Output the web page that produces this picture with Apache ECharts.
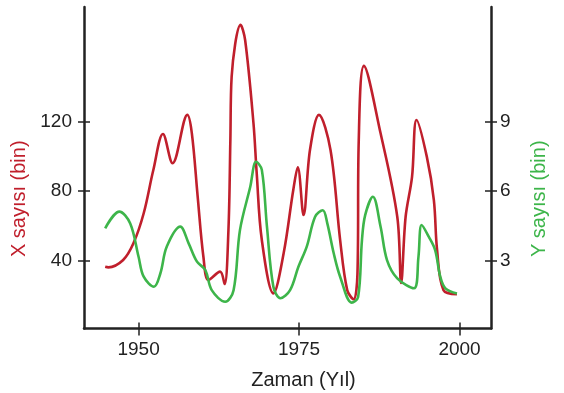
<!DOCTYPE html>
<html>
<head>
<meta charset="utf-8">
<script src="https://cdn.jsdelivr.net/npm/echarts@6/dist/echarts.min.js"></script>
<style>
  html, body { margin: 0; padding: 0; background: #fff; }
  #chart { width: 564px; height: 393px; }
</style>
</head>
<body>
<div id="chart"></div>
<script>
// X sayısı (bin) - sol eksen
var yearsX = [1944.8, 1945.3, 1947.6, 1949.2, 1950.8, 1952.3, 1953.8, 1955.3, 1957.6, 1958.3, 1959.2, 1960.1,
  1960.9, 1962.7, 1963.4, 1964.0, 1964.3, 1964.5, 1965.9, 1966.6, 1967.9, 1968.4, 1969.2, 1971.0, 1972.6, 1974.1,
  1974.8, 1975.7, 1976.7, 1978.1, 1979.9, 1981.4, 1982.5, 1983.5, 1984.1, 1984.3, 1985.1, 1987.7, 1990.3, 1990.9,
  1991.6, 1992.6, 1993.3, 1994.9, 1996.0, 1996.5, 1997.5, 1999.6]
var valuesX = [36.5, 36.2, 40.4, 50.0, 67.3, 92.2, 112.9, 96.1, 123.9, 113.3, 77.2, 42.3,
  28.9, 33.7, 26.6, 57.7, 109.5, 145.9, 175.7, 167.0, 119.1, 90.5, 51.9, 21.2, 44.3, 80.7,
  93.8, 66.3, 103.7, 123.9, 103.7, 51.9, 23.1, 17.8, 32.7, 109.5, 152.1, 113.3, 65.3, 27.2,
  65.3, 88.3, 121.0, 99.9, 74.9, 46.2, 23.1, 20.7]

// Y sayısı (bin) - sağ eksen
var yearsY = [1944.8, 1947.0, 1948.7, 1950.0, 1950.8, 1952.4, 1953.4, 1954.4, 1956.5, 1957.8, 1959.1, 1960.4,
  1961.4, 1963.5, 1964.8, 1965.8, 1967.4, 1968.3, 1969.2, 1970.0, 1971.0, 1972.1, 1973.6, 1974.9, 1976.2, 1977.5,
  1978.7, 1979.4, 1980.4, 1981.4, 1983.2, 1984.2, 1984.8, 1985.3, 1986.5, 1987.7, 1988.7, 1990.3, 1992.9, 1993.6,
  1994.1, 1995.2, 1996.2, 1997.0, 1997.8, 1999.6]
var valuesY = [4.40, 5.12, 4.61, 3.17, 2.31, 1.88, 2.46, 3.61, 4.47, 3.75, 2.96, 2.60,
  1.73, 1.23, 1.73, 4.33, 6.19, 7.27, 6.92, 4.47, 1.88, 1.38, 1.73, 2.74, 3.61, 4.90,
  5.18, 4.61, 3.32, 2.31, 1.19, 1.43, 3.89, 4.97, 5.76, 4.47, 3.03, 2.24, 1.81, 3.17,
  4.54, 4.04, 3.46, 2.31, 1.81, 1.59]

var xTicks = [1950, 1975, 2000]
var leftTicks = [40, 80, 120]
var rightTicks = [3, 6, 9]

var red = '#c01f2c'
var green = '#3db54a'
var ink = '#222'
var font = 'Liberation Sans, Arial, sans-serif'

function pairs (xs, ys) {
  return xs.map(function (x, i) { return [x, ys[i]] })
}

function plain (v) {
  return String(v)
}

var xMin = 1941.5, xMax = 2004.9
var lMin = 1.0, lMax = 186.0
var rMin = lMin * 0.075, rMax = lMax * 0.075

function crossTicks (extra) {
  // eksen çizgisinin iç tarafına taşan tik parçası
  return Object.assign({
    type: 'value',
    axisLine: { show: false },
    axisLabel: { show: false },
    splitLine: { show: false }
  }, extra)
}

var myChart = echarts.init(document.getElementById('chart'))
var option = {
  animation: false,
  backgroundColor: '#fff',
  grid: { left: 84, right: 73, top: 7, bottom: 64.5, containLabel: false, outerBoundsMode: 'none' },
  xAxis: [
    {
      type: 'value', min: xMin, max: xMax, position: 'bottom',
      name: 'Zaman (Yıl)', nameLocation: 'middle', nameGap: 42,
      nameTextStyle: { color: ink, fontSize: 20, fontFamily: font, padding: [0, 0, 0, 32] },
      axisLine: { show: true, lineStyle: { color: ink, width: 2.5 } },
      axisTick: { show: true, length: 7, customValues: xTicks, lineStyle: { color: ink, width: 1.5 } },
      axisLabel: { customValues: xTicks, formatter: plain, margin: 12, color: ink, fontSize: 19, fontFamily: font },
      splitLine: { show: false }
    },
    crossTicks({ min: xMin, max: xMax, position: 'bottom',
      axisTick: { show: true, inside: true, length: 6, customValues: xTicks, lineStyle: { color: ink, width: 1.5 } } })
  ],
  yAxis: [
    {
      type: 'value', min: lMin, max: lMax, position: 'left',
      name: 'X sayısı (bin)', nameLocation: 'middle', nameGap: 52, nameRotate: 90,
      nameTextStyle: { color: red, fontSize: 20, fontFamily: font, padding: [0, 62, 0, 0] },
      axisLine: { show: true, lineStyle: { color: ink, width: 2.5 } },
      axisTick: { show: true, length: 6, customValues: leftTicks, lineStyle: { color: ink, width: 1.5 } },
      axisLabel: { customValues: leftTicks, formatter: plain, margin: 12, color: ink, fontSize: 19, fontFamily: font },
      splitLine: { show: false }
    },
    {
      type: 'value', min: rMin, max: rMax, position: 'right',
      name: 'Y sayısı (bin)', nameLocation: 'middle', nameGap: 38, nameRotate: 90,
      nameTextStyle: { color: green, fontSize: 20, fontFamily: font, padding: [0, 62, 0, 0] },
      axisLine: { show: true, lineStyle: { color: ink, width: 2.5 } },
      axisTick: { show: true, length: 6, customValues: rightTicks, lineStyle: { color: ink, width: 1.5 } },
      axisLabel: { customValues: rightTicks, formatter: plain, margin: 9, color: ink, fontSize: 19, fontFamily: font },
      splitLine: { show: false }
    },
    crossTicks({ min: lMin, max: lMax, position: 'left',
      axisTick: { show: true, inside: true, length: 6, customValues: leftTicks, lineStyle: { color: ink, width: 1.5 } } }),
    crossTicks({ min: rMin, max: rMax, position: 'right',
      axisTick: { show: true, inside: true, length: 6, customValues: rightTicks, lineStyle: { color: ink, width: 1.5 } } })
  ],
  series: [
    {
      name: 'X sayısı (bin)',
      type: 'line',
      xAxisIndex: 0,
      yAxisIndex: 0,
      smooth: 0.35,
      showSymbol: false,
      lineStyle: { color: red, width: 2.6 },
      data: pairs(yearsX, valuesX)
    },
    {
      name: 'Y sayısı (bin)',
      type: 'line',
      xAxisIndex: 0,
      yAxisIndex: 1,
      smooth: 0.35,
      showSymbol: false,
      lineStyle: { color: green, width: 2.6 },
      data: pairs(yearsY, valuesY)
    }
  ]
}
myChart.setOption(option)
</script>
</body>
</html>
